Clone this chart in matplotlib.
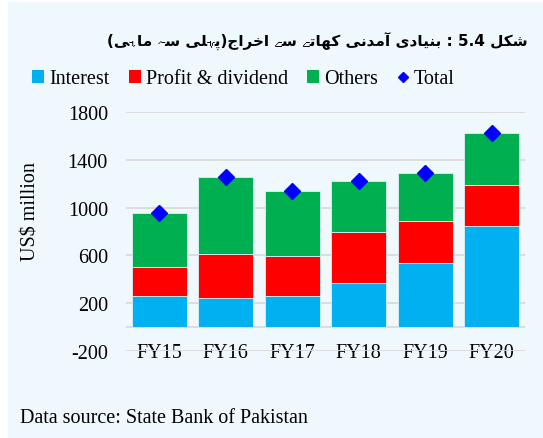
import re
import matplotlib
matplotlib.use('Agg')
import matplotlib.pyplot as plt
from matplotlib import font_manager
from matplotlib.ft2font import FT2Font
from matplotlib.lines import Line2D
from matplotlib.patches import Patch, Rectangle
import numpy as np

categories = ['FY15', 'FY16', 'FY17', 'FY18', 'FY19', 'FY20']
interest = [264, 247, 264, 370, 539, 842]
profit_dividend = [241, 368, 334, 427, 350, 350]
others = [446, 642, 539, 429, 402, 433]
total = [951, 1257, 1137, 1226, 1291, 1625]
y_ticks = [-200, 200, 600, 1000, 1400, 1800]
series_names = ['Interest', 'Profit & dividend', 'Others', 'Total']
title_ur = 'شکل 5.4 : بنیادی آمدنی کھاتے سے اخراج(پہلی سہ ماہی)'
ylabel = 'US$ million'
source = 'Data source: State Bank of Pakistan'

# --- minimal Arabic-script shaping (presentation forms) -------------------
FORMS = {
    '\u0627': ('\uFE8D', '\uFE8E', None, None),
    '\u0622': ('\uFE81', '\uFE82', None, None),
    '\u062F': ('\uFEA9', '\uFEAA', None, None),
    '\u0631': ('\uFEAD', '\uFEAE', None, None),
    '\u06D2': ('\uFBAE', '\uFBAF', None, None),
    '\u0628': ('\uFE8F', '\uFE90', '\uFE91', '\uFE92'),
    '\u067E': ('\uFB56', '\uFB57', '\uFB58', '\uFB59'),
    '\u062A': ('\uFE95', '\uFE96', '\uFE97', '\uFE98'),
    '\u062C': ('\uFE9D', '\uFE9E', '\uFE9F', '\uFEA0'),
    '\u062E': ('\uFEA5', '\uFEA6', '\uFEA7', '\uFEA8'),
    '\u0633': ('\uFEB1', '\uFEB2', '\uFEB3', '\uFEB4'),
    '\u0634': ('\uFEB5', '\uFEB6', '\uFEB7', '\uFEB8'),
    '\u0644': ('\uFEDD', '\uFEDE', '\uFEDF', '\uFEE0'),
    '\u0645': ('\uFEE1', '\uFEE2', '\uFEE3', '\uFEE4'),
    '\u0646': ('\uFEE5', '\uFEE6', '\uFEE7', '\uFEE8'),
    '\u06A9': ('\uFB8E', '\uFB8F', '\uFB90', '\uFB91'),
    '\u06BE': ('\uFBAA', '\uFBAB', '\uFBAC', '\uFBAD'),
    '\u06C1': ('\uFBA6', '\uFBA7', '\uFBA8', '\uFBA9'),
    '\u06CC': ('\uFBFC', '\uFBFD', '\uFBFE', '\uFBFF'),
}


def cmap_of(path):
    try:
        return set(FT2Font(path).get_charmap().keys())
    except Exception:
        return set()


def file_of(family, weight):
    try:
        return font_manager.findfont(
            font_manager.FontProperties(family=family, weight=weight),
            fallback_to_default=False)
    except Exception:
        return None


needed = set()
for c in set(title_ur):
    if c in FORMS:
        needed.add(ord(c))
        needed.update(ord(g) for g in FORMS[c] if g)

# primary: proportional DejaVu Sans (bold if it carries Arabic)
title_weight = 'bold'
p = file_of('DejaVu Sans', 'bold')
primary_cm = cmap_of(p) if p else set()
if len(primary_cm & needed) < len(needed) // 2:
    title_weight = 'normal'
    primary_cm = cmap_of(file_of('DejaVu Sans', 'normal'))
fam_list = ['DejaVu Sans']
union = set(primary_cm)
# secondary fonts only for glyphs the primary lacks
names = []
for fe in font_manager.fontManager.ttflist:
    if fe.name not in names and fe.name != 'DejaVu Sans':
        names.append(fe.name)
for name in names:
    f = file_of(name, title_weight)
    if not f:
        continue
    cm = cmap_of(f)
    if (cm - union) & needed:
        fam_list.append(name)
        union |= cm


def shape(text):
    out = []
    for i, c in enumerate(text):
        if c not in FORMS:
            out.append(c)
            continue
        prev = text[i - 1] if i > 0 else ''
        nxt = text[i + 1] if i + 1 < len(text) else ''
        jp = prev in FORMS and FORMS[prev][2] is not None
        jn = FORMS[c][2] is not None and nxt in FORMS
        idx = 3 if (jp and jn) else 1 if jp else 2 if jn else 0
        g = FORMS[c][idx]
        if ord(g) not in union and ord(c) in union:
            g = c
        out.append(g)
    return ''.join(out)


def visual(text):
    s = shape(text)[::-1]
    s = re.sub(r'[0-9.]+', lambda m: m.group(0)[::-1], s)
    return s.translate(str.maketrans('()', ')('))


title_vis = visual(title_ur)

# --- figure ----------------------------------------------------------------
W, H = 543, 439
fig = plt.figure(figsize=(W / 100, H / 100), dpi=100)
fig.patch.set_facecolor('white')
panel = '#EEF8FD'
fig.patches.append(Rectangle((8 / W, 0), 1 - 8 / W, 1 - 3 / H,
                             transform=fig.transFigure, facecolor=panel,
                             edgecolor='none', zorder=-10))

serif = 'Liberation Serif'
fs = 14.5

ax = fig.add_axes([126 / W, 1 - 352 / H, 399 / W, 239 / H])
ax.set_facecolor('none')

x = np.arange(len(categories))
c_int, c_pd, c_oth = '#00B0F0', '#FF0000', '#00B050'
bw = 0.83
ec = '#DDF0F8'
ax.bar(x, interest, bw, color=c_int, edgecolor=ec, linewidth=0.6, zorder=3)
ax.bar(x, profit_dividend, bw, bottom=interest, color=c_pd, edgecolor=ec,
       linewidth=0.6, zorder=3)
bottom2 = np.array(interest) + np.array(profit_dividend)
ax.bar(x, others, bw, bottom=bottom2, color=c_oth, edgecolor=ec,
       linewidth=0.6, zorder=3)
ax.plot(x, total, linestyle='none', marker='D', markersize=8.5,
        color='#0000FF', zorder=4)

ax.set_xlim(-0.5, len(categories) - 0.5)
ax.set_ylim(-200, 1800)
ax.set_yticks(y_ticks)
ax.set_yticklabels([str(v) for v in y_ticks], family=serif, fontsize=fs)
ax.yaxis.grid(True, color='#D9D9D9', linewidth=1.3, zorder=0)
ax.axhline(0, color='#D9D9D9', linewidth=1.3, zorder=1)
ax.set_axisbelow(True)
ax.set_xticks(x)
ax.set_xticklabels(categories, family=serif, fontsize=fs)
for lbl in ax.get_xticklabels():
    lbl.set_va('center')
    lbl.set_bbox(dict(facecolor=panel, edgecolor='none', pad=1))
    lbl.set_zorder(5)
ax.tick_params(axis='x', length=0, pad=1)
ax.tick_params(axis='y', length=0, pad=13)
for sp in ax.spines.values():
    sp.set_visible(False)

fig.text(31 / W, 1 - 212 / H, ylabel, rotation=90, ha='center', va='center',
         family=serif, fontsize=fs)

handles = [Patch(facecolor=c_int, edgecolor='none'),
           Patch(facecolor=c_pd, edgecolor='none'),
           Patch(facecolor=c_oth, edgecolor='none'),
           Line2D([], [], linestyle='none', marker='D', markersize=5,
                  color='#0000FF')]
fig.legend(handles, series_names, loc='center left',
           bbox_to_anchor=(32 / W, 1 - 80 / H), ncol=4, frameon=False,
           prop={'family': serif, 'size': fs}, handlelength=0.6,
           handleheight=0.6, handletextpad=0.25, columnspacing=0.95,
           borderpad=0, borderaxespad=0)

fig.text(528 / W, 1 - 42 / H, title_vis, ha='right', va='center',
         family=fam_list, weight=title_weight, fontsize=11)

fig.text(20 / W, 1 - 419 / H, source, ha='left', va='center',
         family=serif, fontsize=fs)

fig.savefig('out.png', dpi=100)
